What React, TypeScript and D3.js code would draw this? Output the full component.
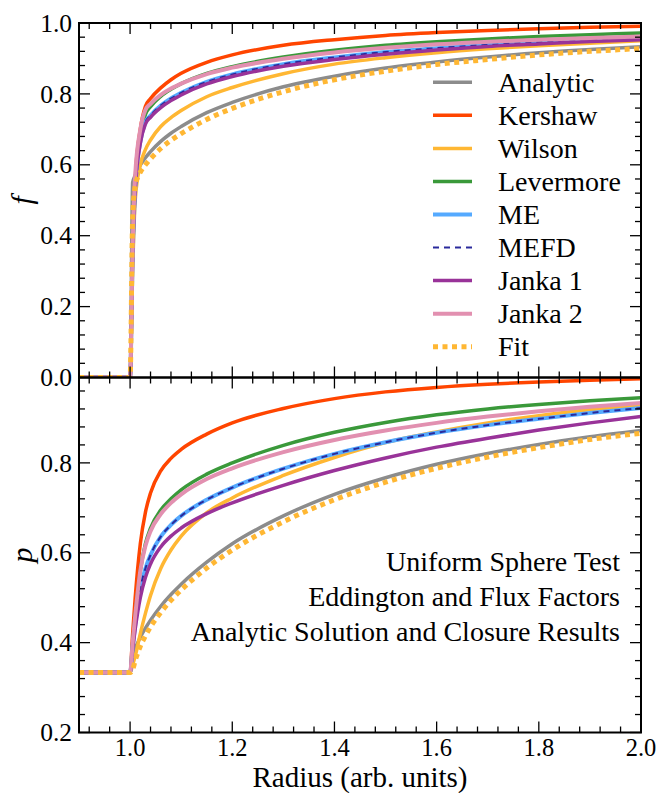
import React from "react";
import * as d3 from "d3";

// Radial sample positions shared by every series
const radius = [0.9, 1.0, 1.005, 1.01, 1.02, 1.03, 1.04, 1.06, 1.08, 1.1, 1.15, 1.2, 1.3, 1.4, 1.5, 1.6, 1.7, 1.8, 1.9, 2.0];

// Flux factor f
const fAnalytic = [0, 0, 0.55, 0.57, 0.599, 0.62, 0.637, 0.666, 0.689, 0.708, 0.747, 0.776, 0.82, 0.85, 0.873, 0.89, 0.904, 0.916, 0.925, 0.933];
const fKershaw = [0, 0, 0.36, 0.56, 0.7, 0.765, 0.787, 0.817, 0.84, 0.858, 0.889, 0.91, 0.937, 0.953, 0.965, 0.973, 0.979, 0.984, 0.988, 0.991];
const fWilson = [0, 0, 0.3, 0.5, 0.6, 0.643, 0.67, 0.708, 0.733, 0.753, 0.792, 0.818, 0.857, 0.884, 0.902, 0.916, 0.927, 0.936, 0.943, 0.95];
const fLevermore = [0, 0, 0.35, 0.54, 0.68, 0.742, 0.764, 0.793, 0.813, 0.829, 0.858, 0.877, 0.904, 0.923, 0.937, 0.947, 0.955, 0.962, 0.967, 0.972];
const fME = [0, 0, 0.34, 0.53, 0.665, 0.72, 0.739, 0.767, 0.787, 0.803, 0.834, 0.855, 0.884, 0.903, 0.918, 0.929, 0.938, 0.945, 0.951, 0.956];
const fMEFD = [0, 0, 0.34, 0.53, 0.665, 0.72, 0.739, 0.767, 0.787, 0.803, 0.834, 0.855, 0.884, 0.903, 0.918, 0.929, 0.938, 0.945, 0.951, 0.956];
const fJanka1 = [0, 0, 0.34, 0.53, 0.66, 0.715, 0.734, 0.761, 0.781, 0.797, 0.828, 0.849, 0.878, 0.897, 0.912, 0.924, 0.934, 0.941, 0.948, 0.953];
const fJanka2 = [0, 0, 0.37, 0.57, 0.7, 0.755, 0.772, 0.797, 0.815, 0.829, 0.856, 0.874, 0.899, 0.917, 0.93, 0.94, 0.947, 0.953, 0.958, 0.962];
const fFit = [0, 0, 0.45, 0.54, 0.579, 0.6, 0.617, 0.646, 0.669, 0.688, 0.728, 0.759, 0.806, 0.84, 0.864, 0.883, 0.897, 0.91, 0.92, 0.928];

// Eddington factor p
const pAnalytic = [0.3333, 0.3333, 0.37, 0.387, 0.412, 0.432, 0.45, 0.481, 0.507, 0.53, 0.579, 0.62, 0.682, 0.73, 0.767, 0.797, 0.821, 0.841, 0.858, 0.872];
const pKershaw = [0.3333, 0.3333, 0.42, 0.5, 0.62, 0.69, 0.733, 0.782, 0.81, 0.83, 0.864, 0.889, 0.921, 0.943, 0.958, 0.968, 0.975, 0.98, 0.984, 0.987];
const pWilson = [0.3333, 0.3333, 0.35, 0.37, 0.42, 0.465, 0.505, 0.565, 0.606, 0.637, 0.689, 0.722, 0.772, 0.812, 0.845, 0.869, 0.889, 0.905, 0.918, 0.929];
const pLevermore = [0.3333, 0.3333, 0.4, 0.46, 0.56, 0.62, 0.655, 0.695, 0.72, 0.74, 0.775, 0.8, 0.839, 0.868, 0.89, 0.907, 0.92, 0.93, 0.938, 0.945];
const pME = [0.3333, 0.3333, 0.39, 0.44, 0.52, 0.565, 0.595, 0.636, 0.662, 0.682, 0.718, 0.745, 0.787, 0.82, 0.846, 0.867, 0.884, 0.898, 0.911, 0.922];
const pMEFD = [0.3333, 0.3333, 0.39, 0.44, 0.52, 0.565, 0.595, 0.636, 0.662, 0.682, 0.718, 0.745, 0.787, 0.82, 0.846, 0.867, 0.884, 0.898, 0.911, 0.922];
const pJanka1 = [0.3333, 0.3333, 0.385, 0.43, 0.5, 0.545, 0.575, 0.613, 0.637, 0.655, 0.687, 0.711, 0.75, 0.783, 0.811, 0.835, 0.855, 0.873, 0.889, 0.903];
const pJanka2 = [0.3333, 0.3333, 0.4, 0.46, 0.56, 0.615, 0.648, 0.686, 0.711, 0.73, 0.764, 0.788, 0.824, 0.851, 0.872, 0.889, 0.903, 0.915, 0.925, 0.933];
const pFit = [0.3333, 0.3333, 0.34, 0.36, 0.392, 0.415, 0.435, 0.467, 0.494, 0.517, 0.566, 0.606, 0.669, 0.718, 0.757, 0.788, 0.813, 0.834, 0.852, 0.866];

const seriesNames = ["Analytic", "Kershaw", "Wilson", "Levermore", "ME", "MEFD", "Janka 1", "Janka 2", "Fit"];
const fluxSeries = [fAnalytic, fKershaw, fWilson, fLevermore, fME, fMEFD, fJanka1, fJanka2, fFit];
const eddSeries = [pAnalytic, pKershaw, pWilson, pLevermore, pME, pMEFD, pJanka1, pJanka2, pFit];

const notes = ["Uniform Sphere Test", "Eddington and Flux Factors", "Analytic Solution and Closure Results"];

const styles = [
  { color: "#8c8c8c", width: 3.5, dash: null },
  { color: "#ff4500", width: 3.5, dash: null },
  { color: "#ffb733", width: 3.5, dash: null },
  { color: "#3a993a", width: 3.5, dash: null },
  { color: "#55aaff", width: 4, dash: null },
  { color: "#2a2a9c", width: 2, dash: "6,5" },
  { color: "#993399", width: 3.5, dash: null },
  { color: "#e290b0", width: 4, dash: null },
  { color: "#ffb733", width: 5, dash: "5,4.5" },
];

const W = 660;
const H = 793;
const L = 79;
const R = 641;
const T = 23;
const MID = 377.5;
const B = 732.5;
const FONT = '"Liberation Serif", "Times New Roman", Times, "DejaVu Serif", serif';

export default function App() {
  const x = d3.scaleLinear().domain([0.9, 2.0]).range([L, R]);
  const yTop = d3.scaleLinear().domain([0, 1]).range([MID, T]);
  const yBot = d3.scaleLinear().domain([0.2, 0.99]).range([B, MID]);

  const makeLine = (y: d3.ScaleLinear<number, number>) =>
    d3
      .line<[number, number]>()
      .x((d) => x(d[0]))
      .y((d) => y(d[1]))
      .curve(d3.curveMonotoneX);

  const lineTop = makeLine(yTop);
  const lineBot = makeLine(yBot);

  const xMajor = d3.range(1.0, 2.0001, 0.2);
  const xMinor = d3.range(0.92, 2.0001, 0.04).filter((v) => !xMajor.some((m) => Math.abs(m - v) < 1e-6));
  const yTopMajor = d3.range(0, 1.0001, 0.2);
  const yTopMinor = d3.range(0, 1.0001, 0.04).filter((v) => !yTopMajor.some((m) => Math.abs(m - v) < 1e-6));
  const yBotMajor = d3.range(0.2, 0.99, 0.2);
  const yBotMinor = d3.range(0.2, 0.99, 0.04).filter((v) => !yBotMajor.some((m) => Math.abs(m - v) < 1e-6));

  const majLen = 11;
  const minLen = 6;

  const panelTicks = (y: d3.ScaleLinear<number, number>, yMaj: number[], yMin: number[], top: number, bottom: number, key: string) => (
    <g key={key} stroke="#000" strokeWidth={1.3}>
      {xMajor.map((v, i) => (
        <g key={"xM" + i}>
          <line x1={x(v)} x2={x(v)} y1={bottom} y2={bottom - majLen} />
          <line x1={x(v)} x2={x(v)} y1={top} y2={top + majLen} />
        </g>
      ))}
      {xMinor.map((v, i) => (
        <g key={"xm" + i}>
          <line x1={x(v)} x2={x(v)} y1={bottom} y2={bottom - minLen} />
          <line x1={x(v)} x2={x(v)} y1={top} y2={top + minLen} />
        </g>
      ))}
      {yMaj.map((v, i) => (
        <g key={"yM" + i}>
          <line x1={L} x2={L + majLen} y1={y(v)} y2={y(v)} />
          <line x1={R} x2={R - majLen} y1={y(v)} y2={y(v)} />
        </g>
      ))}
      {yMin.map((v, i) => (
        <g key={"ym" + i}>
          <line x1={L} x2={L + minLen} y1={y(v)} y2={y(v)} />
          <line x1={R} x2={R - minLen} y1={y(v)} y2={y(v)} />
        </g>
      ))}
    </g>
  );

  const drawSeries = (data: number[][], line: d3.Line<[number, number]>, clip: string) => (
    <g clipPath={`url(#${clip})`}>
      {data.map((vals, i) => {
        const pts = radius.map((r, j) => [r, vals[j]] as [number, number]);
        const s = styles[i];
        return (
          <path
            key={seriesNames[i]}
            d={line(pts) || ""}
            fill="none"
            stroke={s.color}
            strokeWidth={s.width}
            strokeDasharray={s.dash || undefined}
            strokeLinejoin="round"
          />
        );
      })}
    </g>
  );

  const legendX = 433;
  const legendY0 = 82.3;
  const legendStep = 33.05;

  return (
    <svg
      width={W}
      height={H}
      viewBox={`0 0 ${W} ${H}`}
      style={{ position: "absolute", left: 0, top: 0, background: "#fff", fontFamily: FONT }}
    >
      <defs>
        <clipPath id="clipTop">
          <rect x={L} y={T} width={R - L} height={MID - T} />
        </clipPath>
        <clipPath id="clipBot">
          <rect x={L} y={MID} width={R - L} height={B - MID} />
        </clipPath>
      </defs>
      <rect x={0} y={0} width={W} height={H} fill="#fff" />

      {drawSeries(fluxSeries, lineTop, "clipTop")}
      {drawSeries(eddSeries, lineBot, "clipBot")}

      {panelTicks(yTop, yTopMajor, yTopMinor, T, MID, "tTop")}
      {panelTicks(yBot, yBotMajor, yBotMinor, MID, B, "tBot")}

      {/* frames */}
      <rect x={L} y={T} width={R - L} height={MID - T} fill="none" stroke="#000" strokeWidth={2} />
      <rect x={L} y={MID} width={R - L} height={B - MID} fill="none" stroke="#000" strokeWidth={2} />

      {/* y tick labels */}
      <g style={{ fontFamily: FONT, fontSize: 25.5 }} textAnchor="end" fill="#000">
        {yTopMajor.map((v, i) => (
          <text key={"lt" + i} x={L - 7} y={yTop(v)} dy="0.34em">
            {d3.format(".1f")(v)}
          </text>
        ))}
        {yBotMajor.map((v, i) => (
          <text key={"lb" + i} x={L - 7} y={yBot(v)} dy="0.34em">
            {d3.format(".1f")(v)}
          </text>
        ))}
      </g>

      {/* x tick labels */}
      <g style={{ fontFamily: FONT, fontSize: 24.5 }} textAnchor="middle" fill="#000">
        {xMajor.map((v, i) => (
          <text key={"lx" + i} x={x(v)} y={755.5}>
            {d3.format(".1f")(v)}
          </text>
        ))}
      </g>

      <text x={(L + R) / 2} y={787} textAnchor="middle" style={{ fontFamily: FONT, fontSize: 29 }}>
        Radius (arb. units)
      </text>
      <text x={0} y={0} textAnchor="middle" style={{ fontFamily: FONT, fontSize: 30, fontStyle: "italic" }} transform={`translate(32, ${(T + MID) / 2}) rotate(-90)`}>
        f
      </text>
      <text x={0} y={0} textAnchor="middle" style={{ fontFamily: FONT, fontSize: 30, fontStyle: "italic" }} transform={`translate(32, ${(MID + B) / 2}) rotate(-90)`}>
        p
      </text>

      {/* legend */}
      <g>
        {seriesNames.map((name, i) => {
          const yy = legendY0 + i * legendStep;
          const s = styles[i];
          return (
            <g key={"lg" + i}>
              <line
                x1={legendX}
                x2={legendX + 39}
                y1={yy}
                y2={yy}
                stroke={s.color}
                strokeWidth={s.width}
                strokeDasharray={s.dash || undefined}
              />
              <text x={498} y={yy + 9.5} style={{ fontFamily: FONT, fontSize: 28 }}>
                {name}
              </text>
            </g>
          );
        })}
      </g>

      {/* annotation */}
      <g textAnchor="end" style={{ fontFamily: FONT, fontSize: 28 }}>
        {notes.map((t, i) => (
          <text key={"n" + i} x={620} y={571 + i * 35}>
            {t}
          </text>
        ))}
      </g>
    </svg>
  );
}
